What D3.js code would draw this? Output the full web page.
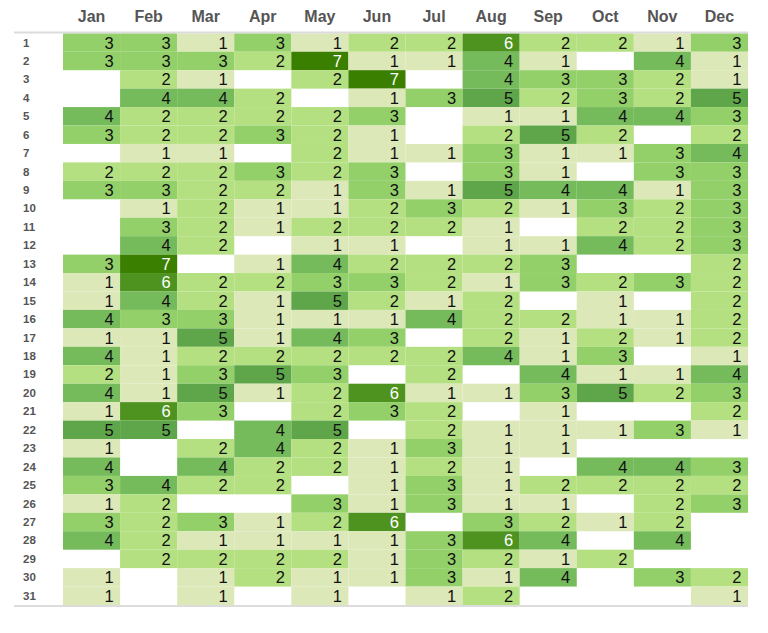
<!DOCTYPE html>
<html><head><meta charset="utf-8">
<script src="https://cdn.jsdelivr.net/npm/d3@7"></script>
<style>body{margin:0;background:#fff;font-family:"Liberation Sans",Arial,sans-serif;}</style>
</head><body><svg id="c" width="768" height="633"></svg>
<script>
const months = ["Jan","Feb","Mar","Apr","May","Jun","Jul","Aug","Sep","Oct","Nov","Dec"];
const days = d3.range(1,32).map(String);
// values per month, day 1..31 (0 = no data)
const jan = [3,3,0,0,4,3,0,2,3,0,0,0,3,1,1,4,1,4,2,4,1,5,1,4,3,1,3,4,0,1,1];
const feb = [3,3,2,4,2,2,1,2,3,1,3,4,7,6,4,3,1,1,1,1,6,5,0,0,4,2,2,2,2,0,0];
const mar = [1,3,1,4,2,2,1,2,2,2,2,2,0,2,2,3,5,2,3,5,3,0,2,4,2,0,3,1,2,1,1];
const apr = [3,2,0,2,2,3,0,3,2,1,1,0,1,2,1,1,1,2,5,1,0,4,4,2,2,0,1,1,2,2,0];
const may = [1,7,2,0,2,2,2,2,1,1,2,1,4,3,5,1,4,2,3,2,2,5,2,2,0,3,2,1,2,1,1];
const jun = [2,1,7,1,3,1,1,3,3,2,2,1,2,3,2,1,3,2,0,6,3,0,1,1,1,1,6,1,1,1,0];
const jul = [2,1,0,3,0,0,1,0,1,3,2,0,2,2,1,4,0,2,2,1,2,2,3,2,3,3,0,3,3,3,1];
const aug = [6,4,4,5,1,2,3,3,5,2,1,1,2,1,2,2,2,4,0,1,0,1,1,1,1,1,3,6,2,1,2];
const sep = [2,1,3,2,1,5,1,1,4,1,0,1,3,3,0,2,1,1,4,3,1,1,1,0,2,1,2,4,1,4,0];
const oct = [2,0,3,3,4,2,1,0,4,3,2,4,0,2,1,1,2,3,1,5,0,1,0,4,2,0,1,0,2,0,0];
const nov = [1,4,2,2,4,0,3,3,1,2,2,2,0,3,0,1,1,0,1,2,0,3,0,4,2,2,2,4,0,3,0];
const dec = [3,1,1,5,3,2,4,3,3,3,3,3,2,2,2,2,2,1,4,3,2,1,0,3,2,3,0,0,0,2,1];
const series = [jan,feb,mar,apr,may,jun,jul,aug,sep,oct,nov,dec];
const levels = [1,2,3,4,5,6,7];
const palette = ["#dde8b9","#b4e081","#93d069","#75bb5c","#5fa64b","#4e931f","#3a7f00"];

const cells = [];
series.forEach((arr,mi)=>arr.forEach((v,di)=>{ if(v>0) cells.push({m:months[mi], d:days[di], v}); }));

const svg = d3.select("#c");
const x = d3.scaleBand().domain(months).range([63,748]);
const y = d3.scaleBand().domain(days).range([33.3,605]);
const color = d3.scaleOrdinal().domain(levels).range(palette);

svg.append("g").selectAll("rect").data(cells).join("rect")
  .attr("x",d=>x(d.m)).attr("y",d=>y(d.d))
  .attr("width",x.bandwidth()).attr("height",y.bandwidth())
  .attr("fill",d=>color(d.v));

svg.append("g").selectAll("text").data(cells).join("text")
  .attr("x",d=>x(d.m)+x.bandwidth()-6.5)
  .attr("y",d=>y(d.d)+y.bandwidth()/2+6)
  .attr("text-anchor","end")
  .attr("font-size",16.5)
  .attr("fill",d=>d.v>=6?"#fff":"#111")
  .text(d=>d.v);

// header and footer lines
svg.append("line").attr("x1",14).attr("x2",748).attr("y1",32.5).attr("y2",32.5).attr("stroke","#dcdcdc").attr("stroke-width",2);
svg.append("line").attr("x1",14).attr("x2",748).attr("y1",606).attr("y2",606).attr("stroke","#dcdcdc").attr("stroke-width",2);

svg.append("g").selectAll("text").data(months).join("text")
  .attr("x",d=>x(d)+x.bandwidth()/2)
  .attr("y",22)
  .attr("text-anchor","middle")
  .attr("font-size",16).attr("font-weight","bold").attr("fill","#555")
  .text(d=>d);

svg.append("g").selectAll("text").data(days).join("text")
  .attr("x",23)
  .attr("y",d=>y(d)+y.bandwidth()/2+4)
  .attr("font-size",11.5).attr("font-weight","bold").attr("fill","#555")
  .text(d=>d);
</script></body></html>
